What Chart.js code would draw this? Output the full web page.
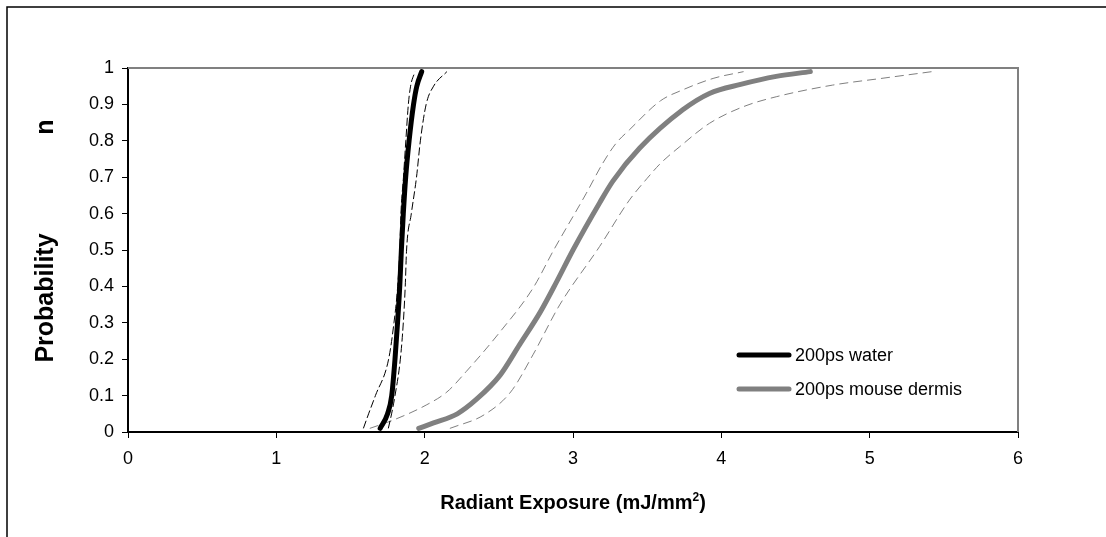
<!DOCTYPE html>
<html>
<head>
<meta charset="utf-8">
<title>Probability vs radiant exposure</title>
<script src="https://cdn.jsdelivr.net/npm/chart.js@4.4.1/dist/chart.umd.min.js"></script>
<style>
    html, body { margin: 0; padding: 0; background: #fff; overflow: hidden; }
    #probability-chart { display: block; }
</style>
</head>
<body>
<canvas id="probability-chart" width="1106" height="537"></canvas>
<script>
// values: x = radiant exposure (mJ/mm2), p = probability
const waterP = [0.01, 0.05, 0.1, 0.2, 0.3, 0.4, 0.5, 0.6, 0.7, 0.8, 0.9, 0.95, 0.99];
const waterX = [1.70, 1.75, 1.778, 1.80, 1.817, 1.832, 1.843, 1.856, 1.872, 1.895, 1.925, 1.947, 1.98];
const waterLowX = [1.587, 1.622, 1.668, 1.757, 1.793, 1.818, 1.832, 1.84, 1.857, 1.873, 1.89, 1.905, 1.935];
const waterHighX = [1.755, 1.777, 1.80, 1.836, 1.856, 1.869, 1.878, 1.91, 1.945, 1.971, 2.01, 2.06, 2.15];

const dermisP = [0.01, 0.025, 0.05, 0.09, 0.157, 0.24, 0.33, 0.413, 0.5, 0.63, 0.69, 0.78, 0.885, 0.93, 0.955, 0.977, 0.99];
const dermisX = [1.96, 2.06, 2.22, 2.35, 2.51, 2.64, 2.78, 2.89, 3.0, 3.18, 3.27, 3.45, 3.74, 3.92, 4.13, 4.37, 4.6];
const dermisLowP = [0.01, 0.033, 0.074, 0.11, 0.166, 0.276, 0.395, 0.5, 0.656, 0.738, 0.793, 0.83, 0.91, 0.94, 0.972, 0.99];
const dermisLowX = [1.63, 1.79, 2.01, 2.15, 2.28, 2.51, 2.73, 2.87, 3.09, 3.2, 3.29, 3.38, 3.59, 3.74, 3.95, 4.15];
const dermisHighP = [0.01, 0.047, 0.11, 0.212, 0.349, 0.51, 0.637, 0.697, 0.738, 0.784, 0.848, 0.894, 0.921, 0.953, 0.972, 0.99];
const dermisHighX = [2.17, 2.4, 2.58, 2.73, 2.91, 3.18, 3.38, 3.5, 3.59, 3.72, 3.92, 4.15, 4.37, 4.75, 5.09, 5.42];

const xTickLabels = ['0', '1', '2', '3', '4', '5', '6'];
const yTickLabels = ['0', '0.1', '0.2', '0.3', '0.4', '0.5', '0.6', '0.7', '0.8', '0.9', '1'];

const FONT = '"Liberation Sans", Arial, sans-serif';

const toPoints = (xs, ps) => xs.map((x, i) => ({ x: x, y: ps[i] }));

const mainLine = (label, xs, ps, color) => ({
    label: label,
    data: toPoints(xs, ps),
    borderColor: color,
    backgroundColor: color,
    borderWidth: 5,
    borderCapStyle: 'round',
    borderJoinStyle: 'round',
    inLegend: true,
    order: 0
});

const boundLine = (label, xs, ps, color, dash) => ({
    label: label,
    data: toPoints(xs, ps),
    borderColor: color,
    borderWidth: 1,
    borderDash: dash,
    inLegend: false,
    order: 1
});

const extrasPlugin = {
    id: 'extras',
    beforeDraw: (chart) => {
        const ctx = chart.ctx;
        ctx.save();
        ctx.fillStyle = '#fff';
        ctx.fillRect(0, 0, chart.width, chart.height);
        // outer frame (left and top edges only are visible)
        ctx.strokeStyle = '#000';
        ctx.lineWidth = 1.5;
        ctx.beginPath();
        ctx.moveTo(7, chart.height);
        ctx.lineTo(7, 7);
        ctx.lineTo(chart.width, 7);
        ctx.stroke();
        ctx.restore();
    },
    beforeDatasetsDraw: (chart) => {
        const ctx = chart.ctx;
        const area = chart.chartArea;
        ctx.save();
        ctx.strokeStyle = '#808080';
        ctx.lineWidth = 2;
        ctx.beginPath();
        ctx.moveTo(area.left, area.top);
        ctx.lineTo(area.right, area.top);
        ctx.lineTo(area.right, area.bottom);
        ctx.stroke();
        ctx.restore();
    },
    afterDraw: (chart) => {
        const ctx = chart.ctx;
        const area = chart.chartArea;
        ctx.save();
        ctx.fillStyle = '#000';

        // y title
        ctx.font = 'bold 25px ' + FONT;
        ctx.textAlign = 'center';
        ctx.textBaseline = 'alphabetic';
        ctx.save();
        ctx.translate(53, 298);
        ctx.rotate(-Math.PI / 2);
        ctx.fillText('Probability', 0, 0);
        ctx.restore();
        ctx.save();
        ctx.translate(53, 127);
        ctx.rotate(-Math.PI / 2);
        ctx.fillText('n', 0, 0);
        ctx.restore();

        // x title with superscript
        const part1 = 'Radiant Exposure (mJ/mm';
        const sup = '2';
        const part3 = ')';
        ctx.font = 'bold 20px ' + FONT;
        const w1 = ctx.measureText(part1).width;
        const w3 = ctx.measureText(part3).width;
        ctx.font = 'bold 12px ' + FONT;
        const w2 = ctx.measureText(sup).width;
        let x = (area.left + area.right) / 2 - (w1 + w2 + w3) / 2;
        const baseY = 509;
        ctx.textAlign = 'left';
        ctx.font = 'bold 20px ' + FONT;
        ctx.fillText(part1, x, baseY);
        x += w1;
        ctx.font = 'bold 12px ' + FONT;
        ctx.fillText(sup, x, baseY - 8);
        x += w2;
        ctx.font = 'bold 20px ' + FONT;
        ctx.fillText(part3, x, baseY);

        // legend inside the plot
        const entries = chart.data.datasets.filter((d) => d.inLegend);
        const lx = area.left + 611;
        let ly = area.top + 287;
        ctx.font = '18px ' + FONT;
        ctx.textBaseline = 'middle';
        entries.forEach((d) => {
            ctx.strokeStyle = d.borderColor;
            ctx.lineWidth = 5;
            ctx.lineCap = 'round';
            ctx.beginPath();
            ctx.moveTo(lx, ly);
            ctx.lineTo(lx + 50, ly);
            ctx.stroke();
            ctx.fillText(d.label, lx + 56, ly + 1);
            ly += 34;
        });
        ctx.restore();
    }
};

const setupAndInitChart = () => {
    const probabilityChart = new Chart(document.querySelector('#probability-chart'), {
        type: 'scatter',
        data: {
            datasets: [
                mainLine('200ps water', waterX, waterP, '#000000'),
                mainLine('200ps mouse dermis', dermisX, dermisP, '#808080'),
                boundLine('water lower', waterLowX, waterP, '#000000', [8, 3]),
                boundLine('water upper', waterHighX, waterP, '#000000', [8, 3]),
                boundLine('dermis lower', dermisLowX, dermisLowP, '#808080', [9, 5]),
                boundLine('dermis upper', dermisHighX, dermisHighP, '#808080', [9, 5])
            ]
        },
        options: {
            responsive: false,
            animation: false,
            showLine: true,
            elements: {
                point: { radius: 0, hoverRadius: 0 },
                line: { cubicInterpolationMode: 'monotone' }
            },
            layout: {
                padding: { top: 68, right: 88, left: 0, bottom: 0 }
            },
            plugins: {
                legend: { display: false },
                tooltip: { enabled: false }
            },
            scales: {
                x: {
                    type: 'linear',
                    min: 0,
                    max: 6,
                    afterFit: (scale) => { scale.height = 105; },
                    border: { display: true, color: '#000', width: 2 },
                    grid: { display: true, drawOnChartArea: false, drawTicks: true, tickLength: 6, color: '#000' },
                    ticks: {
                        stepSize: 1,
                        padding: 10,
                        color: '#000',
                        font: { family: FONT, size: 18 },
                        callback: (value, index) => xTickLabels[index]
                    }
                },
                y: {
                    type: 'linear',
                    min: 0,
                    max: 1,
                    afterFit: (scale) => { scale.width = 128; },
                    border: { display: true, color: '#000', width: 2 },
                    grid: { display: true, drawOnChartArea: false, drawTicks: true, tickLength: 6, color: '#000' },
                    ticks: {
                        stepSize: 0.1,
                        padding: 8,
                        color: '#000',
                        font: { family: FONT, size: 18 },
                        callback: (value, index) => yTickLabels[index]
                    }
                }
            }
        },
        plugins: [extrasPlugin]
    });
};

setupAndInitChart();
</script>
</body>
</html>
